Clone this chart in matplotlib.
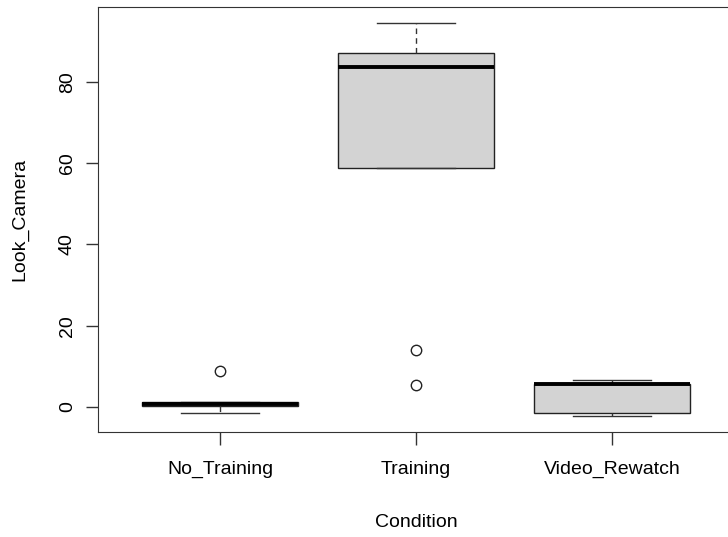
import matplotlib.pyplot as plt

plt.rcParams['font.family'] = ['Liberation Sans', 'DejaVu Sans']

# Values
conditions = ['No_Training', 'Training', 'Video_Rewatch']
whislo = [-1.4, 58.8, -2.3]
q1 = [0.25, 58.8, -1.55]
med = [0.8, 83.6, 5.6]
q3 = [1.1, 87.2, 5.7]
whishi = [1.2, 94.5, 6.7]
fliers = [[8.9], [14.0, 5.4], []]

stats = []
for i, name in enumerate(conditions):
    stats.append(dict(label=name, whislo=whislo[i], q1=q1[i], med=med[i],
                      q3=q3[i], whishi=whishi[i], fliers=fliers[i]))

fig = plt.figure(figsize=(7.28, 5.37), dpi=100)
ax = fig.add_axes([98 / 728, 1 - 432 / 537, 636 / 728, 425 / 537])

ax.bxp(stats, positions=[1, 2, 3], widths=0.8, patch_artist=True,
       boxprops=dict(facecolor='#d3d3d3', edgecolor='#222222', linewidth=1),
       medianprops=dict(color='black', linewidth=2.8, solid_capstyle='butt'),
       whiskerprops=dict(color='#333333', linewidth=1, linestyle=(0, (4, 3))),
       capprops=dict(color='#333333', linewidth=1),
       capwidths=0.4,
       flierprops=dict(marker='o', markerfacecolor='none', markeredgecolor='#222222',
                       markersize=7.5, markeredgewidth=1))

ax.set_xlim(0.378, 3.622)
ax.set_ylim(-6.2, 98.5)
ax.set_yticks([0, 20, 40, 60, 80])
ax.set_xticks([1, 2, 3])
ax.set_xticklabels(conditions)
for lbl in ax.get_yticklabels():
    lbl.set_rotation(90)
    lbl.set_va('center')

ax.tick_params(axis='both', labelsize=14, length=9, width=1, color='#333333')
ax.tick_params(axis='x', pad=12)
ax.tick_params(axis='y', pad=7)
for s in ax.spines.values():
    s.set_color('#333333')

ax.set_xlabel('Condition', fontsize=14, labelpad=26)
ax.set_ylabel('Look_Camera', fontsize=14, labelpad=22)

fig.savefig('out.png', dpi=100)
